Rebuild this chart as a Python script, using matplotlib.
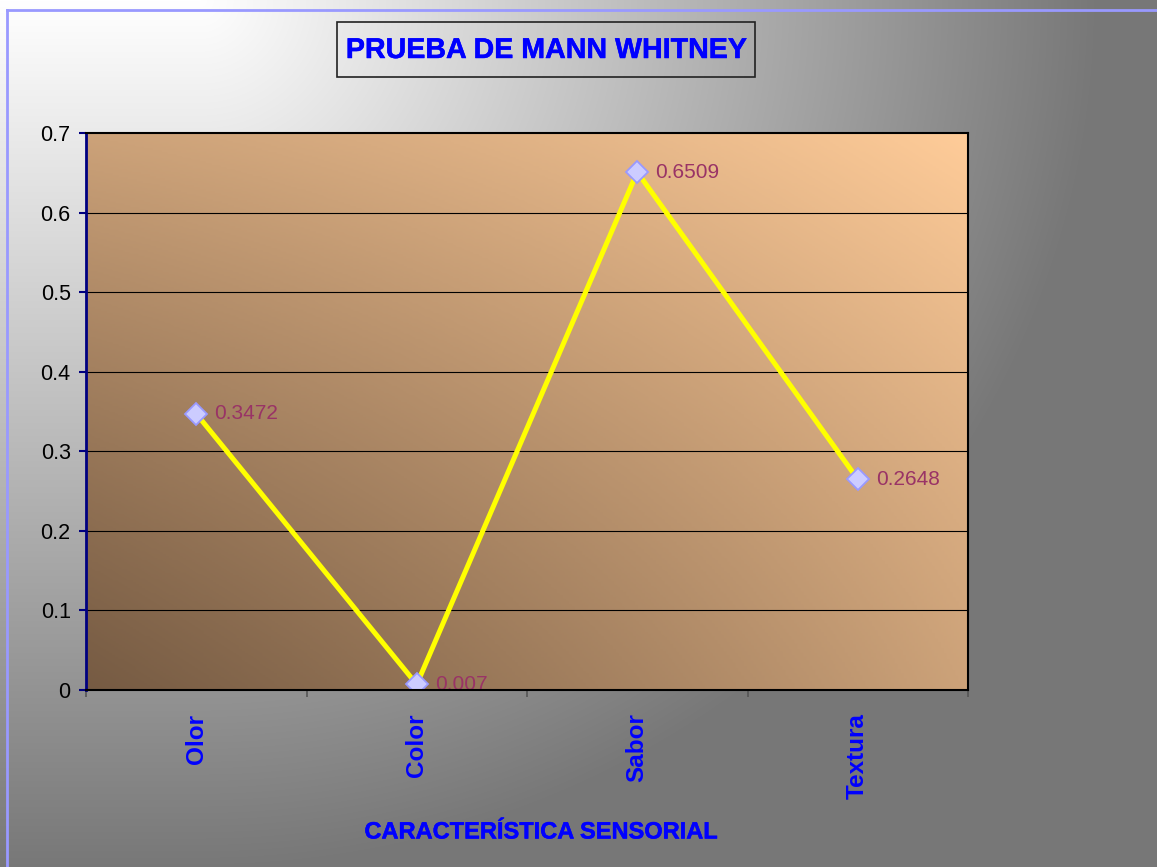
import numpy as np
import matplotlib
matplotlib.use("Agg")
import matplotlib.pyplot as plt
from matplotlib.patches import Rectangle
from matplotlib.lines import Line2D
from matplotlib.colors import LinearSegmentedColormap
import matplotlib.patheffects as pe

plt.rcParams['font.family'] = ['Liberation Sans', 'DejaVu Sans']

categories = ["Olor", "Color", "Sabor", "Textura"]
values = [0.3472, 0.007, 0.6509, 0.2648]
value_labels = ["0.3472", "0.007", "0.6509", "0.2648"]
yticks = [0, 0.1, 0.2, 0.3, 0.4, 0.5, 0.6, 0.7]
ytick_labels = ["0", "0.1", "0.2", "0.3", "0.4", "0.5", "0.6", "0.7"]
title = "PRUEBA DE MANN WHITNEY"
xlabel = "CARACTERÍSTICA SENSORIAL"

W, H = 1157, 867
fig = plt.figure(figsize=(W / 100, H / 100), dpi=100)

# figure background gradient (white top-left -> gray)
bg_ax = fig.add_axes([0, 0, 1, 1], zorder=-10)
yy, xx = np.mgrid[0:H, 0:W]
r = np.sqrt((np.clip(xx - 200, 0, None) / 900.0) ** 2 + (yy / 870.0) ** 2)
r = np.clip(r, 0, 1)
v = (255 - 136 * r) / 255.0
bg_ax.imshow(np.dstack([v, v, v]), extent=[0, 1, 0, 1], aspect='auto', origin='upper')
bg_ax.set_axis_off()

# lavender chart-area border (left and top)
fig.add_artist(Line2D([7 / W, 7 / W], [0, 1 - 10 / H], color='#9999ff', lw=2, transform=fig.transFigure))
fig.add_artist(Line2D([7 / W, 1], [1 - 10 / H, 1 - 10 / H], color='#9999ff', lw=2, transform=fig.transFigure))

# plot area
left, right, top, bottom = 86, 968, 133, 690
ax = fig.add_axes([left / W, 1 - bottom / H, (right - left) / W, (bottom - top) / H])

dark = np.array([0x76, 0x5b, 0x43]) / 255.0
light = np.array([0xff, 0xcc, 0x99]) / 255.0
cmap = LinearSegmentedColormap.from_list("pa", [dark, light])
gy, gx = np.mgrid[0:1:300j, 0:1:300j]
t = np.clip((gx + gy) / 2.0 + 0.13 * (gx - gy) ** 2, 0, 1)
ax.imshow(t, cmap=cmap, extent=[0, 1, 0, 1], origin='lower', aspect='auto',
          transform=ax.transAxes, zorder=0, vmin=0, vmax=1)

x = np.arange(len(categories)) + 0.5
ax.set_xlim(0, len(categories))
ax.set_ylim(0, 0.7)

for yv in yticks[1:-1]:
    ax.axhline(yv, color='black', lw=0.8, zorder=1)

ax.plot(x, values, color='#ffff00', lw=3.6, zorder=3, solid_capstyle='butt')
ax.plot(x, values, linestyle='none', marker='D', markersize=11,
        markerfacecolor='#ccccff', markeredgecolor='#9999ff', markeredgewidth=1.3, zorder=4)

for xi, yi, lab in zip(x, values, value_labels):
    ax.annotate(lab, (xi, yi), xytext=(13, 0), textcoords='offset points',
                ha='left', va='center', fontsize=15, color='#993366', zorder=5)

ax.set_yticks(yticks)
ax.set_yticklabels(ytick_labels, fontsize=15.5, color='black')
ax.tick_params(axis='y', direction='out', length=5, width=1.5, color='#000080', pad=6)

bold_fx = [pe.withStroke(linewidth=0.35, foreground='#0000ff')]

ax.set_xticks(x)
ax.set_xticklabels(categories, rotation=90, fontsize=17.5, fontweight='bold',
                   color='#0000ff', va='top', ha='center')
ax.tick_params(axis='x', length=0, pad=17)
ax.set_xticks(np.arange(len(categories) + 1), minor=True)
ax.tick_params(axis='x', which='minor', direction='out', length=5, width=1.2, color='#555555')

ax.spines['left'].set_color('#000080')
ax.spines['left'].set_linewidth(2)
for s in ['top', 'right', 'bottom']:
    ax.spines[s].set_color('black')
    ax.spines[s].set_linewidth(1.5)
for s in ax.spines.values():
    s.set_zorder(6)

# title box
bx0, bx1, by0, by1 = 337, 755, 22, 77
fig.add_artist(Rectangle((bx0 / W, 1 - by1 / H), (bx1 - bx0) / W, (by1 - by0) / H,
                         transform=fig.transFigure, facecolor='none', edgecolor='#222222', lw=1.2))
fig.text((bx0 + bx1) / 2 / W, 1 - 50 / H, title, ha='center', va='center',
         fontsize=20.6, fontweight='bold', color='#0000ff', path_effects=bold_fx)

# x axis title
fig.text(541 / W, 1 - 832 / H, xlabel, ha='center', va='center',
         fontsize=17, fontweight='bold', color='#0000ff', path_effects=bold_fx)

fig.savefig("out.png", dpi=100)
